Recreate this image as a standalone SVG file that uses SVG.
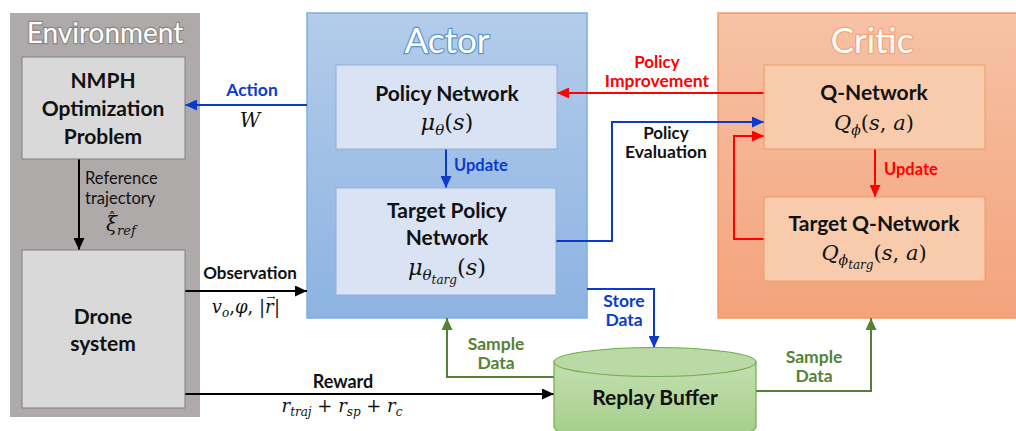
<svg xmlns="http://www.w3.org/2000/svg" width="1016" height="431" viewBox="0 0 1016 431">
  <style>
    .b { font-family: Lato, "Liberation Sans", sans-serif; font-weight: bold; }
    .r { font-family: Lato, "Liberation Sans", sans-serif; }
    .m { font-family: "DejaVu Serif", "Liberation Serif", serif; font-style: italic; fill: #111; text-anchor: middle; }
    .up { font-style: normal; }
    .node { font-size: 21px; fill: #111; text-anchor: middle; }
    .edge { font-size: 17.5px; text-anchor: middle; }
    .blue { fill: #0B3BCB; }
    .red { fill: #FF0000; }
    .green { fill: #548235; }
    .title { fill: #FFFFFF; stroke-width: 2.4px; paint-order: stroke; text-anchor: middle; }
    .ln { fill: none; stroke-width: 2; }
  </style>
  <defs>
    <linearGradient id="actorGrad" x1="0" y1="0" x2="0" y2="1">
      <stop offset="0" stop-color="#B3CCEA"/>
      <stop offset="1" stop-color="#8DB3E2"/>
    </linearGradient>
    <linearGradient id="criticGrad" x1="0" y1="0" x2="0" y2="1">
      <stop offset="0" stop-color="#F6C2A6"/>
      <stop offset="1" stop-color="#F4A37B"/>
    </linearGradient>
    <linearGradient id="cylGrad" x1="0" y1="0" x2="0" y2="1">
      <stop offset="0" stop-color="#C3DFB1"/>
      <stop offset="1" stop-color="#A3CD86"/>
    </linearGradient>
    <marker id="ahBlue" viewBox="0 0 12 11" refX="12" refY="5.5" markerWidth="12" markerHeight="11" markerUnits="userSpaceOnUse" orient="auto">
      <path d="M0,0 L12,5.5 L0,11 z" fill="#0B3BCB"/>
    </marker>
    <marker id="ahRed" viewBox="0 0 12 11" refX="12" refY="5.5" markerWidth="12" markerHeight="11" markerUnits="userSpaceOnUse" orient="auto">
      <path d="M0,0 L12,5.5 L0,11 z" fill="#FF0000"/>
    </marker>
    <marker id="ahBlack" viewBox="0 0 12 11" refX="12" refY="5.5" markerWidth="12" markerHeight="11" markerUnits="userSpaceOnUse" orient="auto">
      <path d="M0,0 L12,5.5 L0,11 z" fill="#000000"/>
    </marker>
    <marker id="ahGreen" viewBox="0 0 12 11" refX="12" refY="5.5" markerWidth="12" markerHeight="11" markerUnits="userSpaceOnUse" orient="auto">
      <path d="M0,0 L12,5.5 L0,11 z" fill="#548235"/>
    </marker>
  </defs>

  <rect width="1016" height="431" fill="#FFFFFF"/>

  <!-- Environment container -->
  <g id="environment">
    <rect x="10" y="13" width="190" height="404" fill="#AEAAAA"/>
    <text class="r title" x="105" y="43" font-size="28" stroke="#8C8888">Environment</text>
  </g>

  <!-- Actor container -->
  <g id="actor">
    <rect x="307" y="13" width="280" height="305" fill="url(#actorGrad)" stroke="#7FAEDD" stroke-width="1.5"/>
    <text class="r title" x="447" y="53" font-size="35" stroke="#5B93D0">Actor</text>
  </g>

  <!-- Critic container -->
  <g id="critic">
    <rect x="718" y="13" width="300" height="305" fill="url(#criticGrad)" stroke="#F29A62" stroke-width="1.5"/>
    <text class="r title" x="872" y="53" font-size="35" stroke="#F4A470">Critic</text>
  </g>

  <!-- Connectors -->
  <g id="connectors">
    <!-- Action -->
    <path class="ln" d="M307,105 H185" stroke="#0B3BCB" marker-end="url(#ahBlue)"/>
    <!-- Reference trajectory -->
    <path class="ln" d="M79,159 V250" stroke="#000000" marker-end="url(#ahBlack)"/>
    <!-- Observation -->
    <path class="ln" d="M185,291 H307" stroke="#000000" marker-end="url(#ahBlack)"/>
    <!-- Reward -->
    <path class="ln" d="M185,394 H554" stroke="#000000" marker-end="url(#ahBlack)"/>
    <!-- Policy update -->
    <path class="ln" d="M446,149 V188" stroke="#0B3BCB" marker-end="url(#ahBlue)"/>
    <!-- Policy improvement -->
    <path class="ln" d="M764,93 H557" stroke="#FF0000" marker-end="url(#ahRed)"/>
    <!-- Policy evaluation -->
    <path class="ln" d="M556,241 H612 V122 H764" stroke="#0B3BCB" marker-end="url(#ahBlue)"/>
    <!-- Target Q feedback -->
    <path class="ln" d="M764,239 H734 V136 H764" stroke="#FF0000" marker-end="url(#ahRed)"/>
    <!-- Q update -->
    <path class="ln" d="M875,149 V197" stroke="#FF0000" marker-end="url(#ahRed)"/>
    <!-- Store data -->
    <path class="ln" d="M587,289 H654 V348" stroke="#0B3BCB" marker-end="url(#ahBlue)"/>
    <!-- Sample data to actor -->
    <path class="ln" d="M554,377 H447 V318" stroke="#548235" marker-end="url(#ahGreen)"/>
    <!-- Sample data to critic -->
    <path class="ln" d="M756,391 H871 V318" stroke="#548235" marker-end="url(#ahGreen)"/>

    <!-- connector labels -->
    <text class="b blue" x="252" y="96" font-size="17.5" text-anchor="middle">Action</text>
    <text class="m" x="250" y="127" font-size="20">W</text>

    <text class="r" x="85" y="184" font-size="16.5" fill="#111">Reference</text>
    <text class="r" x="85" y="204" font-size="16.5" fill="#111">trajectory</text>
    <text class="m" x="106" y="231" font-size="20" style="text-anchor:start">ξ<tspan font-size="13" dy="4">ref</tspan></text>
    <text class="m up" x="112" y="223" font-size="15">ˆ</text>

    <text class="b" x="250" y="279" font-size="17" text-anchor="middle" fill="#111">Observation</text>
    <text class="m" x="265" y="313" font-size="18" style="text-anchor:end">v<tspan font-size="12" dy="4">o</tspan><tspan class="up" dy="-4">,</tspan>φ<tspan class="up">, |</tspan></text>
    <text class="m" x="265" y="313" font-size="18" style="text-anchor:start">r</text>
    <text class="m up" x="271" y="301" font-size="10">→</text>
    <text class="m up" x="274" y="313" font-size="18" style="text-anchor:start">|</text>

    <text class="b" x="343" y="388" font-size="18" text-anchor="middle" fill="#111">Reward</text>
    <text class="m" x="342" y="412" font-size="18">r<tspan font-size="12" dy="4">traj</tspan><tspan class="up" dy="-4"> + </tspan>r<tspan font-size="12" dy="4">sp</tspan><tspan class="up" dy="-4"> + </tspan>r<tspan font-size="12" dy="4">c</tspan></text>

    <text class="b" x="454" y="171" font-size="16.5" fill="#0B3BCB">Update</text>
    <text class="b" x="884" y="175" font-size="16.5" fill="#FF0000">Update</text>

    <text class="b red" x="657" y="68" font-size="17" text-anchor="middle">Policy</text>
    <text class="b red" x="657" y="87" font-size="17.5" text-anchor="middle">Improvement</text>

    <text class="b" x="666" y="139" font-size="17" text-anchor="middle" fill="#111">Policy</text>
    <text class="b" x="666" y="158" font-size="17.5" text-anchor="middle" fill="#111">Evaluation</text>

    <text class="b edge blue" x="624" y="307">Store</text>
    <text class="b edge blue" x="624" y="326">Data</text>

    <text class="b edge green" x="496" y="350">Sample</text>
    <text class="b edge green" x="496" y="369">Data</text>

    <text class="b edge green" x="814" y="363">Sample</text>
    <text class="b edge green" x="814" y="382">Data</text>
  </g>

  <!-- NMPH optimization problem -->
  <g id="nmph">
    <rect x="22" y="57" width="163" height="102" fill="#D9D9D9" stroke="#7F7F7F" stroke-width="1"/>
    <text class="b node" x="103" y="88">NMPH</text>
    <text class="b node" x="103" y="116">Optimization</text>
    <text class="b node" x="103" y="144">Problem</text>
  </g>

  <!-- Drone system -->
  <g id="drone">
    <rect x="22" y="250" width="163" height="158" fill="#D9D9D9" stroke="#7F7F7F" stroke-width="1"/>
    <text class="b node" x="103" y="324">Drone</text>
    <text class="b node" x="103" y="351">system</text>
  </g>

  <!-- Policy network -->
  <g id="policy-network">
    <rect x="336" y="65" width="221" height="84" fill="#DAE3F3" stroke="#8FB0DC" stroke-width="1"/>
    <text class="b node" x="447" y="101">Policy Network</text>
    <text class="m" x="447" y="130" font-size="22.5">μ<tspan font-size="15" dy="5">θ</tspan><tspan class="up" dy="-5">(</tspan>s<tspan class="up">)</tspan></text>
  </g>

  <!-- Target policy network -->
  <g id="target-policy-network">
    <rect x="336" y="188" width="220" height="107" fill="#DAE3F3" stroke="#8FB0DC" stroke-width="1"/>
    <text class="b node" x="447" y="218">Target Policy</text>
    <text class="b node" x="447" y="245">Network</text>
    <text class="m" x="447" y="275" font-size="22.5">μ<tspan font-size="15" dy="5">θ</tspan><tspan font-size="12" dy="4">targ</tspan><tspan class="up" dy="-9">(</tspan>s<tspan class="up">)</tspan></text>
  </g>

  <!-- Q-network -->
  <g id="q-network">
    <rect x="764" y="65" width="221" height="84" fill="#F8CBAD" stroke="#F29A62" stroke-width="1"/>
    <text class="b node" x="874" y="100">Q-Network</text>
    <text class="m" x="874" y="130" font-size="21">Q<tspan font-size="14" dy="5">ϕ</tspan><tspan class="up" dy="-5">(</tspan>s<tspan class="up">, </tspan>a<tspan class="up">)</tspan></text>
  </g>

  <!-- Target Q-network -->
  <g id="target-q-network">
    <rect x="764" y="197" width="221" height="84" fill="#F8CBAD" stroke="#F29A62" stroke-width="1"/>
    <text class="b node" x="874" y="231">Target Q-Network</text>
    <text class="m" x="874" y="260" font-size="21">Q<tspan font-size="14" dy="5">ϕ</tspan><tspan font-size="12" dy="4">targ</tspan><tspan class="up" dy="-9">(</tspan>s<tspan class="up">, </tspan>a<tspan class="up">)</tspan></text>
  </g>

  <!-- Replay buffer -->
  <g id="replay-buffer">
    <path d="M554,362 V427 A101,14 0 0 0 756,427 V362 Z" fill="url(#cylGrad)" stroke="#70AD47" stroke-width="1.2"/>
    <ellipse cx="655" cy="362" rx="101" ry="14.5" fill="#B9DAA5" stroke="#70AD47" stroke-width="1.2"/>
    <text class="b" x="655" y="405" font-size="21" text-anchor="middle" fill="#111">Replay Buffer</text>
  </g>
</svg>
